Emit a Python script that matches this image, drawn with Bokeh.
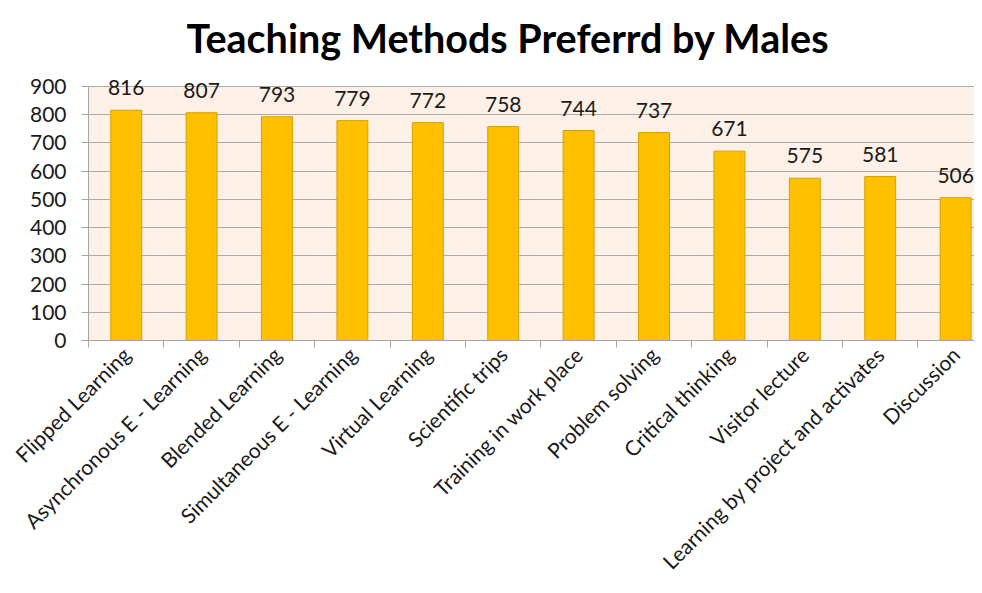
from math import pi
from bokeh.plotting import figure
from bokeh.models import ColumnDataSource, FixedTicker, LinearAxis, Title, LabelSet, BoxAnnotation
from bokeh.core.properties import value
from bokeh.embed import file_html
from bokeh.resources import INLINE

categories = ["Flipped Learning", "Asynchronous E - Learning", "Blended Learning",
              "Simultaneous E - Learning", "Virtual Learning", "Scientific trips",
              "Training in work place", "Problem solving", "Critical thinking",
              "Visitor lecture", "Learning by project and activates", "Discussion"]
values = [816, 807, 793, 779, 772, 758, 744, 737, 671, 575, 581, 506]
y_ticks = [0, 100, 200, 300, 400, 500, 600, 700, 800, 900]

FONT = "Lato"
n = len(categories)
centers = [i + 0.5 for i in range(n)]
bounds = list(range(n + 1))
src = ColumnDataSource(dict(x=centers, top=values, lab=[str(v) for v in values]))

p = figure(width=974, height=585, output_backend="svg", toolbar_location=None,
           x_range=(0, 11.75), y_range=(0, 939),
           background_fill_color="white", border_fill_color="white",
           outline_line_color=None, min_border_left=88, min_border_right=0,
           min_border_top=75, min_border_bottom=243, x_axis_type=None)

t = Title(text="Teaching Methods Preferrd by Males", text_font=FONT,
          text_font_size="39.5px", text_font_style="bold", text_color="black",
          align="left", vertical_align="top", offset=98, standoff=25)
p.add_layout(t, "above")

plot_bg = BoxAnnotation(bottom=0, top=y_ticks[-1], fill_color="#FDF0E6", fill_alpha=1,
                        line_color=None, level="underlay")
p.center = [plot_bg] + list(p.center)

p.vbar(x="x", top="top", width=0.41, source=src, fill_color="#FFC000",
       line_color="#D4A000", line_width=1)

labels = LabelSet(x="x", y="top", text="lab", source=src, text_align="center",
                  text_baseline="bottom", y_offset=15, text_font=value(FONT),
                  text_font_size="21px", text_color="#1a1a1a")
p.add_layout(labels)

# category labels at centres, tick marks at category boundaries (minor ticks)
ax_lab = LinearAxis(ticker=FixedTicker(ticks=centers, minor_ticks=bounds),
                    major_label_overrides={c: cat for c, cat in zip(centers, categories)},
                    major_label_orientation=pi / 4, major_label_text_font=FONT,
                    major_label_text_font_size="21px", major_label_text_color="#1a1a1a",
                    axis_line_color="#A6A6A6", major_tick_line_color=None,
                    major_tick_in=0, major_tick_out=7,
                    minor_tick_line_color="#A6A6A6", minor_tick_in=0, minor_tick_out=7,
                    major_label_standoff=3)
p.add_layout(ax_lab, "below")

p.yaxis.ticker = FixedTicker(ticks=y_ticks)
p.yaxis.bounds = (0, 900)
p.yaxis.axis_line_color = "#A6A6A6"
p.yaxis.major_tick_line_color = "#A6A6A6"
p.yaxis.major_tick_in = 0
p.yaxis.major_tick_out = 7
p.yaxis.minor_tick_line_color = None
p.yaxis.major_label_text_font = FONT
p.yaxis.major_label_text_font_size = "21px"
p.yaxis.major_label_text_color = "#1a1a1a"
p.yaxis.major_label_standoff = 15

p.xgrid.grid_line_color = None
p.ygrid.ticker = FixedTicker(ticks=y_ticks)
p.ygrid.grid_line_color = "#ABABAB"
p.ygrid.grid_line_width = 1

open("out.html", "w").write(file_html(p, INLINE))
